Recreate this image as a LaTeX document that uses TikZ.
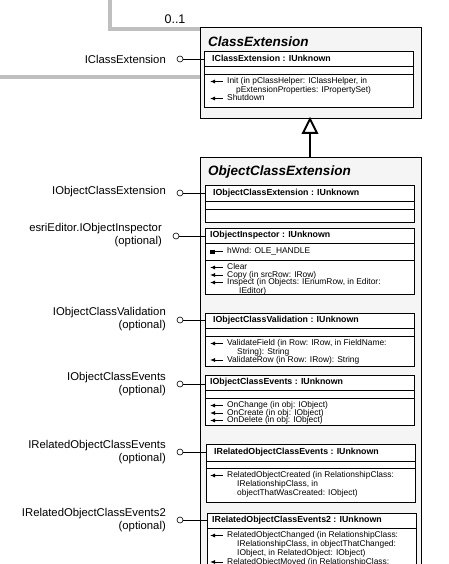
\documentclass[tikz,border=0pt]{standalone}
\usepackage{fontspec}
\setmainfont{Liberation Sans}
\usetikzlibrary{arrows.meta}
\begin{document}
\begin{tikzpicture}[x=1pt,y=-1pt,
  gl/.style={line width=3.5pt,draw=black!25},
  outer/.style={draw=black,line width=0.9pt,fill=black!4},
  inner/.style={draw=black,line width=0.7pt,fill=white},
  hdr/.style={anchor=west,font=\fontsize{8.8}{9}\selectfont\bfseries,inner sep=0pt},
  ttl/.style={anchor=west,font=\fontsize{13.5}{14}\selectfont\bfseries\itshape,inner sep=0pt},
  lab/.style={anchor=east,font=\fontsize{11.3}{13.5}\selectfont,align=right,inner sep=0pt},
  mt/.style={anchor=north west,font=\fontsize{8.4}{7.4}\selectfont,align=left,inner sep=0pt},
  lolli/.style={circle,draw=black,fill=white,minimum size=6pt,inner sep=0pt,line width=0.6pt},
  con/.style={draw=black,line width=0.6pt}]
\useasboundingbox (0,0) rectangle (449,564);
\clip (0,0) rectangle (449,564);
\newcommand\mth[3]{\draw[line width=0.9pt,-{Latex[length=5pt,width=4pt]}] (#1+13,#2+3.5) -- (#1,#2+3.5);
  \node[mt] at (#1+17,#2-0.5) {#3};}
% gray frame lines
\draw[gl] (110,0) -- (110,29) -- (200,29);
\draw[gl] (0,77) -- (200,77);
\node[font=\fontsize{12.5}{13}\selectfont] (mult) at (175,19) {0..1};
% ClassExtension
\draw[outer] (200,27) rectangle (421,118);
\node[ttl] (t1) at (208,42) {ClassExtension};
\draw[inner] (204,51) rectangle (413,107);
\draw[line width=0.7pt] (204,66) -- (413,66) (204,74) -- (413,74);
\node[hdr] (h1) at (212,58.5) {IClassExtension : IUnknown};
\mth{210}{78}{Init (in pClassHelper: IClassHelper, in\\\hspace*{9pt}pExtensionProperties: IPropertySet)}
\mth{210}{95}{Shutdown}
\node[lab] (l1) at (166,59) {IClassExtension};
\node[lolli] (c1) at (180,59) {};
\coordinate (b1) at (204,59);
\draw[con] (c1) -- (b1);
% inheritance
\coordinate (tip) at (310,119);
\coordinate (bot) at (310,157);
\draw[line width=2.2pt] (bot) -- (310,133);
\draw[line width=2pt,fill=white,line join=miter] (tip) -- (303,133) -- (317,133) -- cycle;
% ObjectClassExtension
\draw[outer] (200,157) rectangle (421,580);
\node[ttl] (t2) at (208,172) {ObjectClassExtension};
% box 1
\draw[inner] (205,185) rectangle (414,222);
\draw[line width=0.7pt] (205,201) -- (414,201) (205,209) -- (414,209);
\node[hdr] at (213,193) {IObjectClassExtension : IUnknown};
\node[lab] at (166,192) {IObjectClassExtension};
\node[lolli] (c2) at (180,193) {};
\coordinate (b2) at (205,193);
\draw[con] (c2) -- (b2);
% box 2
\draw[inner] (205,228) rectangle (414,294);
\draw[line width=0.7pt] (205,243) -- (414,243) (205,260) -- (414,260);
\node[hdr] at (210,235.5) {IObjectInspector : IUnknown};
\fill (210,249.5) rectangle (215,253.5);
\draw[line width=0.8pt] (215,251.5) -- (223,251.5);
\node[mt,anchor=west] at (227,251.5) {hWnd: OLE\_HANDLE};
\mth{210}{264}{Clear}
\mth{210}{271.5}{Copy (in srcRow: IRow)}
\mth{210}{279}{Inspect (in Objects: IEnumRow, in Editor:\\\hspace*{12pt}IEditor)}
\node[lab] at (162,235) {esriEditor.IObjectInspector\\(optional)};
\node[lolli] (c3) at (176,236) {};
\coordinate (b3) at (205,236);
\draw[con] (c3) -- (b3);
% box 3
\draw[inner] (205,313) rectangle (414,366);
\draw[line width=0.7pt] (205,328) -- (414,328) (205,336) -- (414,336);
\node[hdr] at (213,320.5) {IObjectClassValidation : IUnknown};
\mth{210}{340}{ValidateField (in Row: IRow, in FieldName:\\\hspace*{10pt}String): String}
\mth{210}{356.5}{ValidateRow (in Row: IRow): String}
\node[lab] at (166,319) {IObjectClassValidation\\(optional)};
\node[lolli] (c4) at (180,320) {};
\coordinate (b4) at (205,320);
\draw[con] (c4) -- (b4);
% box 4
\draw[inner] (205,375) rectangle (414,425);
\draw[line width=0.7pt] (205,390) -- (414,390) (205,398) -- (414,398);
\node[hdr] at (210,382.5) {IObjectClassEvents : IUnknown};
\mth{210}{402}{OnChange (in obj: IObject)}
\mth{210}{409.5}{OnCreate (in obj: IObject)}
\mth{210}{417}{OnDelete (in obj: IObject)}
\node[lab] at (166,384) {IObjectClassEvents\\(optional)};
\node[lolli] (c5) at (180,384) {};
\coordinate (b5) at (205,384);
\draw[con] (c5) -- (b5);
% box 5
\draw[inner] (206,444) rectangle (415,502);
\draw[line width=0.7pt] (206,461) -- (415,461) (206,468) -- (415,468);
\node[hdr] at (214,452.5) {IRelatedObjectClassEvents : IUnknown};
\mth{210}{472}{RelatedObjectCreated (in RelationshipClass:\\\hspace*{10pt}IRelationshipClass, in\\\hspace*{10pt}objectThatWasCreated: IObject)}
\node[lab] at (166,452) {IRelatedObjectClassEvents\\(optional)};
\node[lolli] (c6) at (180,452) {};
\coordinate (b6) at (206,452);
\draw[con] (c6) -- (b6);
% box 6
\draw[inner] (207,513) rectangle (416,580);
\draw[line width=0.7pt] (207,528) -- (416,528);
\node[hdr] at (212,520.5) {IRelatedObjectClassEvents2 : IUnknown};
\mth{210}{532}{RelatedObjectChanged (in RelationshipClass:\\\hspace*{10pt}IRelationshipClass, in objectThatChanged:\\\hspace*{10pt}IObject, in RelatedObject: IObject)}
\mth{210}{558.5}{RelatedObjectMoved (in RelationshipClass:}
\node[lab] at (166,520) {IRelatedObjectClassEvents2\\(optional)};
\node[lolli] (c7) at (180,520) {};
\coordinate (b7) at (207,520);
\draw[con] (c7) -- (b7);
\end{tikzpicture}
\end{document}
